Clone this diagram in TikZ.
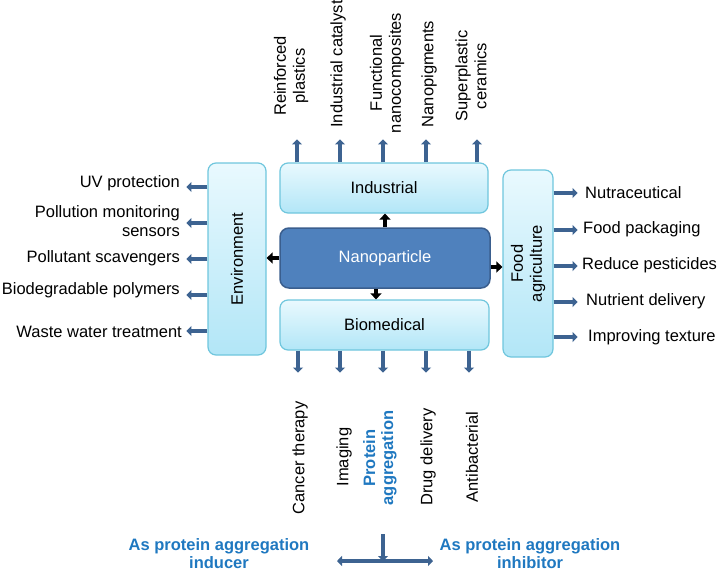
\documentclass[tikz,border=0pt]{standalone}
\usepackage{fontspec}
\setmainfont{Liberation Sans}
\usetikzlibrary{arrows.meta}
\definecolor{arrowblue}{HTML}{3D6391}
\definecolor{textblue}{HTML}{1F78C0}
\definecolor{nanofill}{HTML}{4F81BD}
\definecolor{nanoline}{HTML}{3A5E8E}
\definecolor{boxline}{HTML}{6FC6DD}
\definecolor{boxlight}{HTML}{E9F9FE}
\definecolor{boxdark}{HTML}{B2E6F7}
\tikzset{every node/.style={font=\fontsize{16.5}{19}\selectfont, inner sep=2pt},
  lightbox/.style={draw=boxline, line width=1.2pt, rounded corners=8pt, top color=boxlight, bottom color=boxdark},
  darkbox/.style={draw=nanoline, line width=1.5pt, rounded corners=9pt, fill=nanofill, text=white},
  bluearrow/.style={arrowblue, line width=4.2pt, -{Triangle[length=5pt,width=10pt]}},
  blackarrow/.style={black, line width=4.5pt, -{Triangle[length=6pt,width=11pt]}},
  bluetext/.style={textblue, font=\fontsize{16.5}{18}\selectfont\bfseries, align=center}}

\begin{document}
\begin{tikzpicture}[x=1pt,y=-1pt]
  \useasboundingbox (0,0) rectangle (717,573);
  % boxes
  \node[darkbox, minimum width=210pt, minimum height=60pt] (nano) at (385,258) {Nanoparticle};
  \node[lightbox, minimum width=208pt, minimum height=50pt] (ind) at (384,188) {Industrial};
  \node[lightbox, minimum width=209pt, minimum height=50pt] (bio) at (384.5,325) {Biomedical};
  % rotated boxes: north is the left side, south the right side
  \node[lightbox, rotate=90, minimum width=192pt, minimum height=58pt] (env) at (237,259) {Environment};
  \node[lightbox, rotate=90, minimum width=187pt, minimum height=50pt, align=center] (food) at (528,263.5) {Food\\agriculture};

  \draw[blackarrow] (nano.north) -- (nano.north |- ind.south);
  \draw[blackarrow] (nano.west) -- (nano.west -| env.south);
  \draw[blackarrow] ([yshift=-9pt]nano.east) -- ([yshift=-9pt]nano.east -| food.north);
  \draw[blackarrow] ([xshift=-9pt]nano.south) -- ([xshift=-9pt]nano.south |- bio.north);

  % industrial
  \foreach \x in {297,340,383,426,477}
    \draw[bluearrow] (ind.north -| \x,0) -- ++(0,-23);
  \node[rotate=90, align=center] (plastics) at (291,76) {Reinforced\\plastics};
  \node[rotate=90] (catalyst) at (338,64) {Industrial catalyst};
  \node[rotate=90, align=center] (composites) at (387,73) {Functional\\nanocomposites};
  \node[rotate=90] (pigments) at (429,74) {Nanopigments};
  \node[rotate=90, align=center] (ceramics) at (471,76) {Superplastic\\ceramics};

  % biomedical
  \foreach \x in {298,340,383,426,469}
    \draw[bluearrow] (bio.south -| \x,0) -- ++(0,22);
  \node[rotate=90] (cancer) at (300,458) {Cancer therapy};
  \node[rotate=90] (imaging) at (344,457) {Imaging};
  \node[rotate=90, bluetext] (protein) at (380,458) {Protein\\aggregation};
  \node[rotate=90] (drug) at (428,457) {Drug delivery};
  \node[rotate=90] (antibac) at (472,457) {Antibacterial};

  % environment
  \foreach \y in {187,223,259,295,331}
    \draw[bluearrow] (env.north |- 0,\y) -- ++(-21,0);
  \node[anchor=east] (uv) at (182,183) {UV protection};
  \node[anchor=east, align=right] (sensors) at (182,221) {Pollution monitoring\\sensors};
  \node[anchor=east] (scavengers) at (182,258) {Pollutant scavengers};
  \node[anchor=east] (polymers) at (182,290) {Biodegradable polymers};
  \node[anchor=east] (water) at (184,332) {Waste water treatment};

  % food agriculture
  \foreach \y in {193,230,266,302,337}
    \draw[bluearrow] (food.south |- 0,\y) -- ++(24,0);
  \node[anchor=west] (nutra) at (583,193) {Nutraceutical};
  \node[anchor=west] (packaging) at (581,229) {Food packaging};
  \node[anchor=west] (pesticides) at (580,265) {Reduce pesticides};
  \node[anchor=west] (nutrient) at (584,301) {Nutrient delivery};
  \node[anchor=west] (texture) at (586,337) {Improving texture};

  % protein aggregation
  \node[bluetext, inner sep=0pt] (inducer) at (219,554) {As protein aggregation\\inducer};
  \node[bluetext, inner sep=0pt] (inhibitor) at (530,554) {As protein aggregation\\inhibitor};
  \coordinate (split) at (383,534);
  \coordinate (lend) at (337,561);
  \coordinate (rend) at (433,561);
  \draw[bluearrow] (split) -- (split |- lend);
  \draw[bluearrow, {Triangle[length=5pt,width=10pt]}-{Triangle[length=5pt,width=10pt]}] (lend) -- (rend);
\end{tikzpicture}
\end{document}
